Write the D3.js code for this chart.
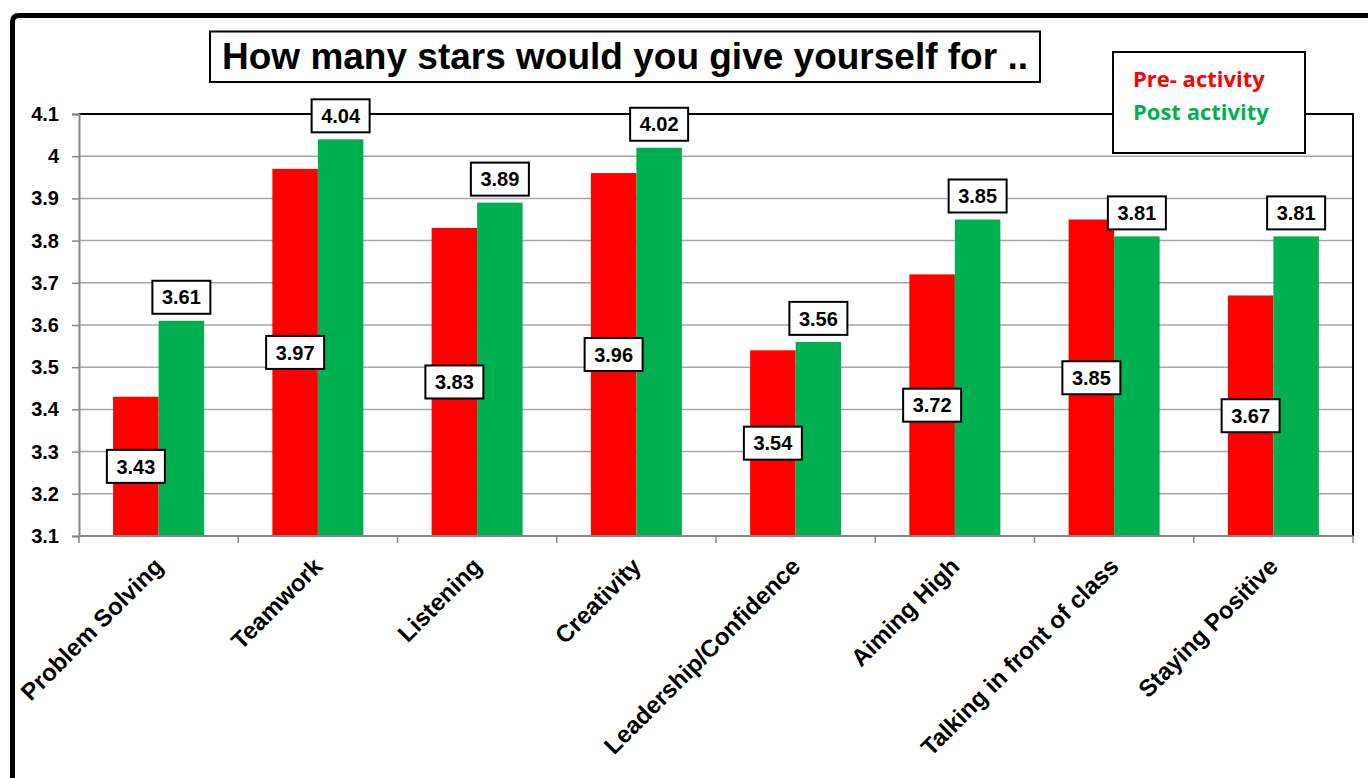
<!DOCTYPE html>
<html>
<head>
<meta charset="utf-8">
<script src="https://cdn.jsdelivr.net/npm/d3@7/dist/d3.min.js"></script>
<style>
  html, body { margin: 0; padding: 0; background: #fff; }
  svg { display: block; }
</style>
</head>
<body>
<svg id="chart" width="1368" height="778"></svg>
<script>
// Self-rating survey: average stars before and after the activity
const categories = [
  "Problem Solving", "Teamwork", "Listening", "Creativity",
  "Leadership/Confidence", "Aiming High", "Talking in front of class", "Staying Positive"
];
const preActivity  = [3.43, 3.97, 3.83, 3.96, 3.54, 3.72, 3.85, 3.67];
const postActivity = [3.61, 4.04, 3.89, 4.02, 3.56, 3.85, 3.81, 3.81];
const seriesNames  = ["Pre- activity", "Post activity"];
const yTicks = [3.1, 3.2, 3.3, 3.4, 3.5, 3.6, 3.7, 3.8, 3.9, 4.0, 4.1];
const titleText = "How many stars would you give yourself for ..";

const RED = "#ff0000", GREEN = "#00b050";
const AXIS_FONT = "'Liberation Sans', Arial, sans-serif";

const svg = d3.select("#chart");
svg.append("rect").attr("width", 1368).attr("height", 778).attr("fill", "#fff");

// plot frame
const plot = { left: 79, right: 1353, top: 114, bottom: 536 };

const x = d3.scaleBand().domain(categories).range([plot.left, plot.right]).padding(0);
const xs = d3.scaleBand().domain(["pre", "post"]).range([0, x.bandwidth()])
  .paddingInner(0).paddingOuter(0.75);
const y = d3.scaleLinear().domain([3.1, 4.1]).range([plot.bottom, plot.top]);

const rows = categories.map((c, i) => ({ cat: c, pre: preActivity[i], post: postActivity[i] }));

// outer chart border (open to the right and bottom)
svg.append("path")
  .attr("d", "M12.5,800 L12.5,22 Q12.5,15.5 19,15.5 L1400,15.5")
  .attr("fill", "none").attr("stroke", "#000").attr("stroke-width", 5);

// horizontal gridlines
svg.append("g").selectAll("line")
  .data(yTicks.filter(t => t > 3.1 + 1e-9 && t < 4.1 - 1e-9))
  .join("line")
  .attr("x1", plot.left).attr("x2", plot.right)
  .attr("y1", d => y(d)).attr("y2", d => y(d))
  .attr("stroke", "#a6a6a6").attr("stroke-width", 1.5);

// top and right edges of the plot area
svg.append("path")
  .attr("d", `M${plot.left},${plot.top} L${plot.right},${plot.top} L${plot.right},${plot.bottom}`)
  .attr("fill", "none").attr("stroke", "#000").attr("stroke-width", 2);

// bars
const groups = svg.append("g").selectAll("g")
  .data(rows).join("g")
  .attr("transform", d => `translate(${x(d.cat)},0)`);

groups.append("rect")
  .attr("x", xs("pre")).attr("width", xs.bandwidth())
  .attr("y", d => y(d.pre)).attr("height", d => y(3.1) - y(d.pre))
  .attr("fill", RED);

groups.append("rect")
  .attr("x", xs("post")).attr("width", xs.bandwidth())
  .attr("y", d => y(d.post)).attr("height", d => y(3.1) - y(d.post))
  .attr("fill", GREEN);

// y axis
const fmt = d => String(+d.toFixed(1));
const yAxis = svg.append("g")
  .attr("transform", `translate(${plot.left},0)`)
  .call(d3.axisLeft(y).tickValues(yTicks).tickSize(7).tickPadding(13).tickFormat(fmt));
yAxis.select(".domain").attr("stroke", "#868686").attr("stroke-width", 2);
yAxis.selectAll(".tick line").attr("stroke", "#868686").attr("stroke-width", 1.5);
yAxis.selectAll(".tick text")
  .attr("font-family", AXIS_FONT).attr("font-weight", "bold")
  .attr("font-size", 20).attr("fill", "#000");

// x axis line and category separators
svg.append("line")
  .attr("x1", plot.left).attr("x2", plot.right)
  .attr("y1", plot.bottom).attr("y2", plot.bottom)
  .attr("stroke", "#868686").attr("stroke-width", 2);
const bounds = categories.map(c => x(c)).concat([plot.right]);
svg.append("g").selectAll("line")
  .data(bounds).join("line")
  .attr("x1", d => d).attr("x2", d => d)
  .attr("y1", plot.bottom).attr("y2", plot.bottom + 7)
  .attr("stroke", "#868686").attr("stroke-width", 1.5);

// rotated category labels
svg.append("g").selectAll("text")
  .data(categories).join("text")
  .attr("transform", c => `translate(${x(c) + x.bandwidth() / 2 + 6},568) rotate(-45)`)
  .attr("text-anchor", "end")
  .attr("font-family", AXIS_FONT).attr("font-weight", "bold")
  .attr("font-size", 24).attr("fill", "#000")
  .text(c => c);

// value labels in boxed callouts
const boxW = 58, boxH = 33;
function callout(cx, cy, v) {
  const g = svg.append("g").attr("transform", `translate(${cx},${cy})`);
  g.append("rect")
    .attr("x", -boxW / 2).attr("y", -boxH / 2)
    .attr("width", boxW).attr("height", boxH)
    .attr("fill", "#fff").attr("stroke", "#000").attr("stroke-width", 2);
  g.append("text")
    .attr("text-anchor", "middle").attr("dy", "0.36em")
    .attr("font-family", AXIS_FONT).attr("font-weight", "bold")
    .attr("font-size", 20).attr("fill", "#000")
    .text(v.toFixed(2));
}
rows.forEach(d => {
  const cxPre = x(d.cat) + xs("pre") + xs.bandwidth() / 2;
  callout(cxPre, (y(d.pre) + y(3.1)) / 2, d.pre);
});
rows.forEach(d => {
  const cxPost = x(d.cat) + xs("post") + xs.bandwidth() / 2;
  callout(cxPost, y(d.post) - 7 - boxH / 2, d.post);
});

// title
svg.append("rect")
  .attr("x", 210).attr("y", 31.5).attr("width", 830).attr("height", 50.5)
  .attr("fill", "#fff").attr("stroke", "#000").attr("stroke-width", 2);
svg.append("text")
  .attr("x", 625).attr("y", 69)
  .attr("text-anchor", "middle")
  .attr("font-family", AXIS_FONT).attr("font-weight", "bold")
  .attr("font-size", 37).attr("fill", "#000")
  .text(titleText);

// legend
svg.append("rect")
  .attr("x", 1113).attr("y", 52).attr("width", 192).attr("height", 101)
  .attr("fill", "#fff").attr("stroke", "#000").attr("stroke-width", 2);
svg.append("g").selectAll("text")
  .data(seriesNames).join("text")
  .attr("x", 1133).attr("y", (d, i) => 87 + i * 33)
  .attr("font-family", "'Open Sans', sans-serif").attr("font-weight", "bold")
  .attr("font-size", 22)
  .attr("fill", (d, i) => i === 0 ? RED : GREEN)
  .text(d => d);
</script>
</body>
</html>
